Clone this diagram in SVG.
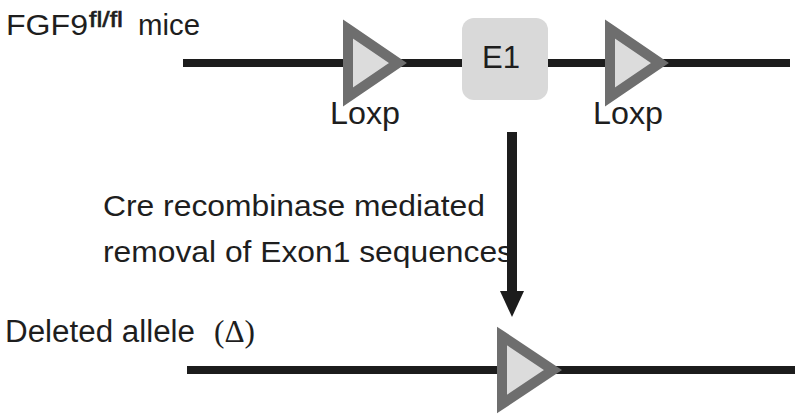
<svg xmlns="http://www.w3.org/2000/svg" width="800" height="419" viewBox="0 0 800 419">
  <defs>
    <style>
      .dna { stroke: #1c1c1c; stroke-width: 8; fill: none; }
      .loxp { fill: #dcdcdc; stroke: #6e6e6e; stroke-width: 10; stroke-linejoin: miter; stroke-miterlimit: 10; }
      .t { font-family: "Liberation Sans", Arial, sans-serif; fill: #1e1e1e; }
      .ts { font-family: "Liberation Serif", "Times New Roman", serif; fill: #1e1e1e; }
    </style>
    <marker id="head" viewBox="0 0 26 24" refX="1" refY="12" markerWidth="26" markerHeight="24" markerUnits="userSpaceOnUse" orient="auto">
      <path d="M0,0 L26,12 L0,24 Z" fill="#1c1c1c"/>
    </marker>
  </defs>
  <rect width="800" height="419" fill="#ffffff"/>

  <g id="floxed-allele">
    <line class="dna" x1="183" y1="63" x2="790" y2="63"/>
    <text class="t" x="6" y="35" font-size="29" textLength="82" lengthAdjust="spacingAndGlyphs">FGF9</text>
    <text class="t" x="89" y="27" font-size="22" textLength="34" lengthAdjust="spacingAndGlyphs" stroke="#1e1e1e" stroke-width="0.6">fl/fl</text>
    <text class="t" x="138" y="35" font-size="29" textLength="62" lengthAdjust="spacingAndGlyphs">mice</text>
  </g>

  <g id="loxp1">
    <polygon class="loxp" points="348,29 398,63 348,97"/>
    <text class="t" x="330" y="124" font-size="32" textLength="70" lengthAdjust="spacingAndGlyphs">Loxp</text>
  </g>

  <g id="e1">
    <rect x="462" y="18" width="86" height="82" rx="12" ry="12" fill="#d9d9d9"/>
    <text class="t" x="482" y="68" font-size="31" textLength="38" lengthAdjust="spacingAndGlyphs">E1</text>
  </g>

  <g id="loxp2">
    <polygon class="loxp" points="610,29 660,63 610,97"/>
    <text class="t" x="593" y="124" font-size="32" textLength="70" lengthAdjust="spacingAndGlyphs">Loxp</text>
  </g>

  <g id="deleted-allele">
    <line class="dna" x1="187" y1="370" x2="795" y2="370" stroke-width="9"/>
    <text class="t" x="5" y="342" font-size="31" textLength="190" lengthAdjust="spacingAndGlyphs">Deleted allele</text>
    <text class="ts" x="214" y="342" font-size="31" textLength="41" lengthAdjust="spacingAndGlyphs">(Δ)</text>
  </g>

  <g id="loxp3">
    <polygon class="loxp" points="502,336 553,370 502,404"/>
  </g>

  <g id="connectors">
    <text class="t" x="103" y="216" font-size="30" textLength="382" lengthAdjust="spacingAndGlyphs">Cre recombinase mediated</text>
    <text class="t" x="103" y="262" font-size="30" textLength="410" lengthAdjust="spacingAndGlyphs">removal of Exon1 sequences</text>
    <line x1="512" y1="132" x2="512" y2="292" stroke="#1c1c1c" stroke-width="10" marker-end="url(#head)"/>
  </g>
</svg>
